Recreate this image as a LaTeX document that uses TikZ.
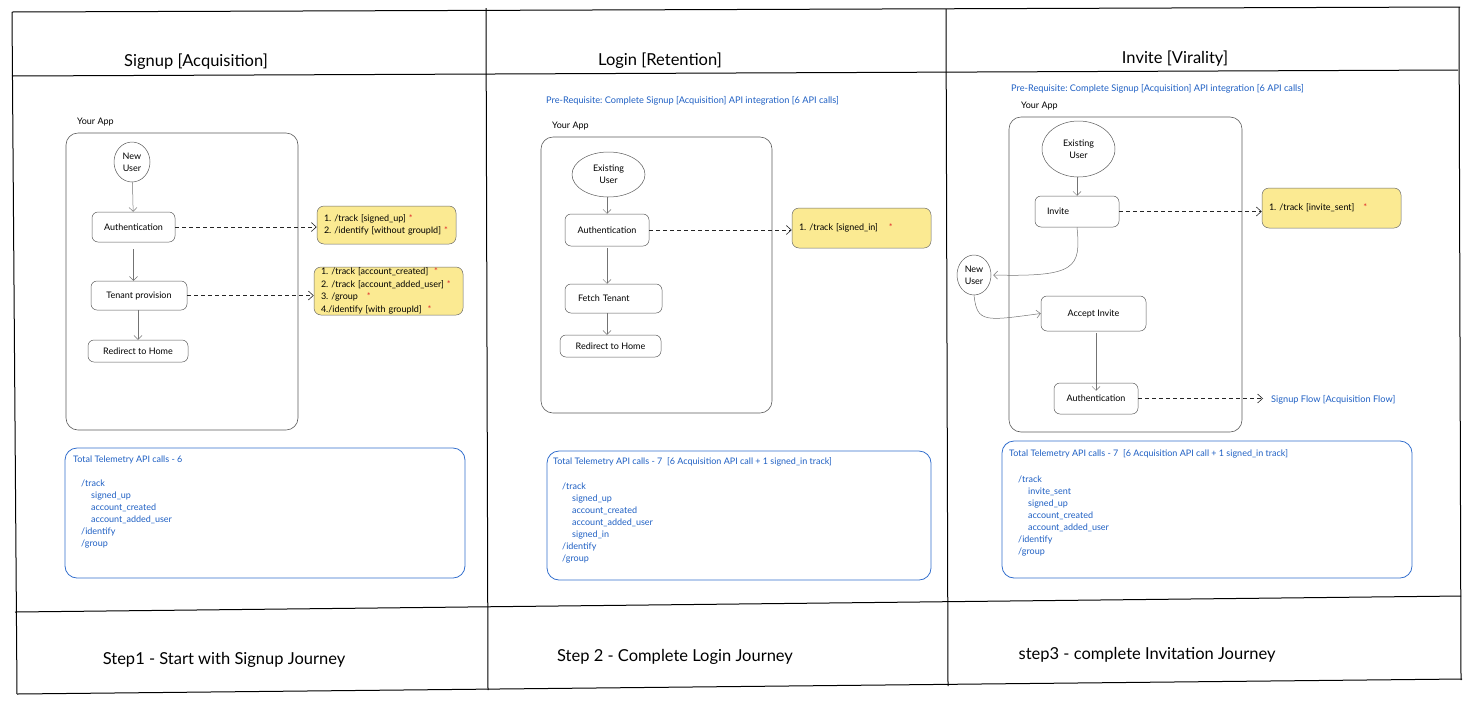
\documentclass[tikz,border=0pt]{standalone}
\usepackage{fontspec}
\setmainfont{Lato}
\usetikzlibrary{arrows.meta,shapes.geometric}
\definecolor{bluetxt}{RGB}{30,95,195}
\definecolor{blueln}{RGB}{50,110,205}
\definecolor{yel}{RGB}{251,234,146}
\definecolor{ln}{RGB}{90,90,90}
\definecolor{astcol}{RGB}{225,40,40}
\newcommand{\redast}{\textcolor{astcol}{*}}
\frenchspacing
\tikzset{
  gridline/.style={line width=1pt, black},
  flowbox/.style={draw=ln, rounded corners=6pt, line width=0.5pt, font=\fontsize{9}{10}\selectfont, inner sep=0pt, align=center},
  circ/.style={draw=ln, ellipse, line width=0.5pt, font=\fontsize{9}{12}\selectfont, align=center, inner sep=0pt},
  cont/.style={draw=ln, rounded corners=12pt, line width=0.6pt},
  ybox/.style={draw=ln!90, fill=yel, rounded corners=7pt, line width=0.5pt, font=\fontsize{9}{12.5}\selectfont\frenchspacing, align=left, inner xsep=7pt, inner ysep=0pt},
  totbox/.style={draw=blueln, rounded corners=12pt, line width=0.8pt, inner sep=0pt},
  tottext/.style={text=bluetxt, font=\fontsize{9}{12}\selectfont, align=left, inner sep=0pt, anchor=north west},
  bluelabel/.style={text=bluetxt, font=\fontsize{9.2}{10}\selectfont, inner sep=0pt, anchor=west},
  applabel/.style={font=\fontsize{9}{10}\selectfont, inner sep=0pt, anchor=west},
  title/.style={font=\fontsize{16.5}{18}\selectfont, inner sep=0pt},
  flow/.style={draw=ln!85, line width=0.5pt, -{Straight Barb[length=4pt,width=8pt]}},
  dflow/.style={draw=black!85, line width=0.6pt, dash pattern=on 4pt off 3pt, -{Straight Barb[length=5pt,width=9pt]}}
}
\begin{document}
\begin{tikzpicture}[x=1pt,y=-1pt]
\useasboundingbox (0,0) rectangle (1472,705);
% grid
\draw[gridline] (12,12) -- (1460,7);
\draw[gridline] (12,76) -- (1458,70);
\draw[gridline] (15,612) -- (1461,596);
\draw[gridline] (17,694) -- (1462,679);
\draw[gridline] (12,12) -- (17,694);
\draw[gridline] (486,8) -- (488,690);
\draw[gridline] (946,9) -- (948,686);
\draw[gridline] (1459,7) -- (1461,680);
% titles
\node[title] (h1) at (196,62) {Signup [Acquisition]};
\node[title] (h2) at (660,61) {Login [Retention]};
\node[title] (h3) at (1175,59) {Invite [Virality]};
\node[title] (f1) at (224,660) {Step1 - Start with Signup Journey};
\node[title] (f2) at (675,657) {Step 2 - Complete Login Journey};
\node[title] (f3) at (1147,655) {step3 - complete Invitation Journey};

% ---------- column 1
\node[applabel] (ya1) at (77,122) {Your App};
\draw[cont] (66,133) rectangle (298,430);
\node[circ, minimum width=36pt, minimum height=40pt] (nu1) at (132,162) {New\\User};
\node[flowbox, minimum width=83pt, minimum height=30pt] (au1) at (133.5,227) {Authentication};
\node[flowbox, minimum width=96pt, minimum height=29pt] (tp1) at (139,295.5) {Tenant provision};
\node[flowbox, minimum width=100pt, minimum height=22pt] (rh1) at (138,351) {Redirect to Home};
\node[ybox, minimum width=139pt, minimum height=38pt, text width=125pt] (y1a) at (386.5,225) {1. /track [signed\_up] \redast\\2. /identify [without groupId] \redast};
\node[ybox, minimum width=149pt, minimum height=48pt, text width=135pt] (y1b) at (388.5,291) {1. /track [account\_created] \ \redast\\2. /track [account\_added\_user] \redast\\3. /group \ \ \redast\\4./identify [with groupId] \ \redast};
\draw[flow] (nu1) -- (au1);
\draw[flow, shorten <=7pt] (au1.south) -- (tp1.north -| au1.south);
\draw[flow] (tp1.south -| rh1.north) -- (rh1.north);
\draw[dflow] (au1.east) -- (au1.east -| y1a.west);
\draw[dflow] (tp1.east) -- (tp1.east -| y1b.west);
\node[totbox, minimum width=400pt, minimum height=130pt] (t1) at (265,513) {};
\node[tottext] (t1t) at (73,456) {Total Telemetry API calls - 6\\[12pt]
\hspace*{8pt}/track\\
\hspace*{18pt}signed\_up\\
\hspace*{18pt}account\_created\\
\hspace*{18pt}account\_added\_user\\
\hspace*{8pt}/identify\\
\hspace*{8pt}/group};

% ---------- column 2
\node[bluelabel] (pr2) at (546,101) {Pre-Requisite: Complete Signup [Acquisition] API integration [6 API calls]};
\node[applabel] (ya2) at (552,126) {Your App};
\draw[cont] (541,137) rectangle (772,413);
\node[circ, minimum width=73pt, minimum height=45pt] (eu2) at (608.5,174.5) {Existing\\User};
\node[flowbox, minimum width=84pt, minimum height=32pt] (au2) at (607,230) {Authentication};
\node[flowbox, minimum width=97pt, minimum height=29pt, text width=71pt, align=left, inner xsep=13pt] (ft2) at (613.5,298.5) {Fetch Tenant};
\node[flowbox, minimum width=101pt, minimum height=22pt] (rh2) at (610.5,346) {Redirect to Home};
\node[ybox, minimum width=139pt, minimum height=40pt, text width=125pt] (y2) at (861.5,228) {1. /track [signed\_in] \hspace{8pt}\redast};
\draw[flow] (eu2.south -| au2.north) -- (au2.north);
\draw[flow, shorten <=2pt] (au2.south) -- (ft2.north -| au2.south);
\draw[flow] (ft2.south -| au2.south) -- (rh2.north -| au2.south);
\draw[dflow] (au2.east) -- (au2.east -| y2.west);
\node[totbox, minimum width=384pt, minimum height=129pt] (t2) at (739,515.5) {};
\node[tottext] (t2t) at (553,457) {Total Telemetry API calls - 7\ \ [6 Acquisition API call + 1 signed\_in track]\\[13pt]
\hspace*{9pt}/track\\
\hspace*{19pt}signed\_up\\
\hspace*{19pt}account\_created\\
\hspace*{19pt}account\_added\_user\\
\hspace*{19pt}signed\_in\\
\hspace*{9pt}/identify\\
\hspace*{9pt}/group};

% ---------- column 3
\node[bluelabel] (pr3) at (1011,89) {Pre-Requisite: Complete Signup [Acquisition] API integration [6 API calls]};
\node[applabel] (ya3) at (1021,106) {Your App};
\draw[cont] (1009,117) rectangle (1242,432);
\node[circ, minimum width=73pt, minimum height=56pt] (eu3) at (1078.5,149) {Existing\\User};
\node[flowbox, minimum width=84pt, minimum height=31pt, text width=60pt, align=left, inner xsep=12pt] (inv3) at (1077,211.5) {Invite};
\node[circ, minimum width=34pt, minimum height=40pt] (nu3) at (974,275) {New\\User};
\node[flowbox, minimum width=105pt, minimum height=35pt] (ai3) at (1093.5,313.5) {Accept Invite};
\node[flowbox, minimum width=84pt, minimum height=31pt] (au3) at (1096,398.5) {Authentication};
\node[ybox, minimum width=139pt, minimum height=40pt, text width=125pt] (y3) at (1331.5,208) {1. /track [invite\_sent] \hspace{6pt}\redast\\[5pt]};
\node[bluelabel] (sf3) at (1271,400) {Signup Flow [Acquisition Flow]};
\draw[flow] (eu3.south -| inv3.north) -- (inv3.north);
\draw[dflow] (inv3.east) -- (inv3.east -| y3.west);
\draw[flow] (inv3.south) .. controls (1081,268) and (1076,277) .. ([xshift=2pt]nu3.east);
\draw[flow] (nu3.south) .. controls (977,323) and (985,321) .. (ai3.west);
\draw[flow, shorten <=2pt] (ai3.south -| au3.north) -- ([yshift=-8pt]au3.north);
\draw[dflow, shorten >=8pt] (au3.east) -- (au3.east -| sf3.west);
\node[totbox, minimum width=410pt, minimum height=137pt] (t3) at (1207,509.5) {};
\node[tottext] (t3t) at (1009,449) {Total Telemetry API calls - 7\ \ [6 Acquisition API call + 1 signed\_in track]\\[14pt]
\hspace*{9pt}/track\\
\hspace*{19pt}invite\_sent\\
\hspace*{19pt}signed\_up\\
\hspace*{19pt}account\_created\\
\hspace*{19pt}account\_added\_user\\
\hspace*{9pt}/identify\\
\hspace*{9pt}/group};
\end{tikzpicture}
\end{document}
